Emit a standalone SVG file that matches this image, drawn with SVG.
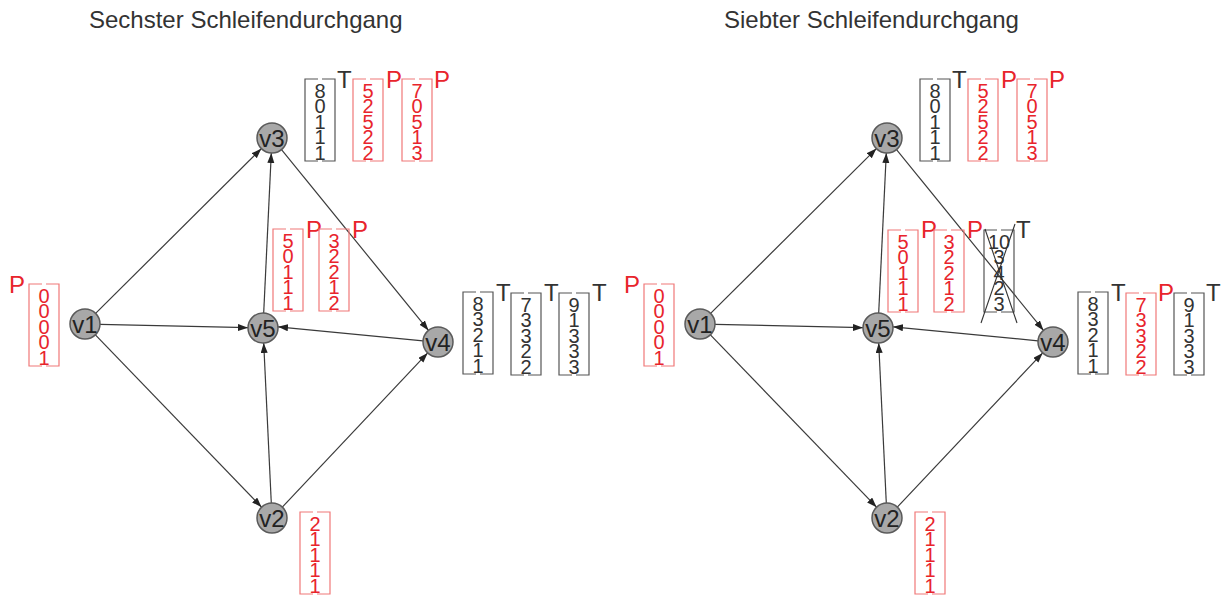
<svg xmlns="http://www.w3.org/2000/svg" xmlns:xlink="http://www.w3.org/1999/xlink" width="1226" height="596" viewBox="0 0 1226 596">
  <style>
    .title { font-family: "Liberation Sans", Arial, sans-serif; font-size: 24px; fill: #333; }
    .node circle { fill: #a8a8a8; stroke: #5a5a5a; stroke-width: 1.5; }
    .node text { font-family: "Liberation Sans", Arial, sans-serif; font-size: 24px; fill: #222; text-anchor: middle; }
    .edges line { stroke: #3a3a3a; stroke-width: 1.2; marker-end: url(#arrow); }
    .frame-red { fill: none; stroke: #f07878; stroke-width: 1.2; }
    .frame-blk { fill: none; stroke: #555; stroke-width: 1.2; }
    .col { font-family: "Liberation Sans", Arial, sans-serif; font-size: 20px; text-anchor: middle; }
    .red { fill: #e8242c; }
    .blk { fill: #333; }
    .tag { font-family: "Liberation Sans", Arial, sans-serif; font-size: 24px; }
    .cross { stroke: #333; stroke-width: 1.1; }
  </style>
  <defs>
    <marker id="arrow" markerUnits="userSpaceOnUse" markerWidth="11" markerHeight="8" refX="10" refY="3.5" orient="auto">
      <path d="M0,0 L10,3.5 L0,7 z" fill="#222"/>
    </marker>
    <!-- bracket-style frame around a vector, 30 x 82 -->
    <path id="frame" d="M13,0 H0 V82 H13 M17,0 H30 V82 H17"/>
  </defs>

  <!-- ===== Left panel ===== -->
  <text class="title" x="89" y="28">Sechster Schleifendurchgang</text>

  <g id="left-edges" class="edges">
    <line x1="95.6" y1="313.4" x2="261.4" y2="148.6"/>
    <line x1="100" y1="324.3" x2="248" y2="327.7"/>
    <line x1="95.4" y1="334.8" x2="261.6" y2="507.2"/>
    <line x1="281.5" y1="149.6" x2="428.5" y2="330.4"/>
    <line x1="263.7" y1="313" x2="271.3" y2="153"/>
    <line x1="423" y1="340.8" x2="278" y2="326.8"/>
    <line x1="271.3" y1="503" x2="263.7" y2="343"/>
    <line x1="282.3" y1="507.1" x2="427.7" y2="352.9"/>
  </g>

  <g id="left-v1" class="node"><circle cx="85" cy="324" r="15"/><text x="85" y="332.5">v1</text></g>
  <g id="left-v3" class="node"><circle cx="272" cy="138" r="15"/><text x="272" y="146.5">v3</text></g>
  <g id="left-v5" class="node"><circle cx="263" cy="328" r="15"/><text x="263" y="336.5">v5</text></g>
  <g id="left-v4" class="node"><circle cx="438" cy="342" r="15"/><text x="438" y="350.5">v4</text></g>
  <g id="left-v2" class="node"><circle cx="272" cy="518" r="15"/><text x="272" y="526.5">v2</text></g>

  <!-- vectors at v1 -->
  <g id="left-v1-vectors">
    <text class="tag red" x="9" y="293">P</text>
    <use xlink:href="#frame" x="29" y="284" class="frame-red"/>
    <text class="col red" y="302.5"><tspan x="44">0</tspan><tspan x="44" dy="15.5">0</tspan><tspan x="44" dy="15.5">0</tspan><tspan x="44" dy="15.5">0</tspan><tspan x="44" dy="15.5">1</tspan></text>
  </g>

  <!-- vectors at v3 -->
  <g id="left-v3-vectors">
    <use xlink:href="#frame" x="305" y="79" class="frame-blk"/>
    <text class="col blk" y="97.5"><tspan x="320">8</tspan><tspan x="320" dy="15.5">0</tspan><tspan x="320" dy="15.5">1</tspan><tspan x="320" dy="15.5">1</tspan><tspan x="320" dy="15.5">1</tspan></text>
    <text class="tag blk" x="337" y="88">T</text>
    <use xlink:href="#frame" x="353" y="79" class="frame-red"/>
    <text class="col red" y="97.5"><tspan x="368">5</tspan><tspan x="368" dy="15.5">2</tspan><tspan x="368" dy="15.5">5</tspan><tspan x="368" dy="15.5">2</tspan><tspan x="368" dy="15.5">2</tspan></text>
    <text class="tag red" x="386" y="88">P</text>
    <use xlink:href="#frame" x="402" y="79" class="frame-red"/>
    <text class="col red" y="97.5"><tspan x="417">7</tspan><tspan x="417" dy="15.5">0</tspan><tspan x="417" dy="15.5">5</tspan><tspan x="417" dy="15.5">1</tspan><tspan x="417" dy="15.5">3</tspan></text>
    <text class="tag red" x="434" y="88">P</text>
  </g>

  <!-- vectors at v5 -->
  <g id="left-v5-vectors">
    <use xlink:href="#frame" x="273" y="229" class="frame-red"/>
    <text class="col red" y="247.5"><tspan x="288">5</tspan><tspan x="288" dy="15.5">0</tspan><tspan x="288" dy="15.5">1</tspan><tspan x="288" dy="15.5">1</tspan><tspan x="288" dy="15.5">1</tspan></text>
    <text class="tag red" x="306" y="238">P</text>
    <use xlink:href="#frame" x="319" y="229" class="frame-red"/>
    <text class="col red" y="247.5"><tspan x="334">3</tspan><tspan x="334" dy="15.5">2</tspan><tspan x="334" dy="15.5">2</tspan><tspan x="334" dy="15.5">1</tspan><tspan x="334" dy="15.5">2</tspan></text>
    <text class="tag red" x="352" y="238">P</text>
  </g>

  <!-- vectors at v4 -->
  <g id="left-v4-vectors">
    <use xlink:href="#frame" x="463" y="292" class="frame-blk"/>
    <text class="col blk" y="310.5"><tspan x="478">8</tspan><tspan x="478" dy="15.5">3</tspan><tspan x="478" dy="15.5">2</tspan><tspan x="478" dy="15.5">1</tspan><tspan x="478" dy="15.5">1</tspan></text>
    <text class="tag blk" x="496" y="301">T</text>
    <use xlink:href="#frame" x="511" y="293" class="frame-blk"/>
    <text class="col blk" y="311.5"><tspan x="526">7</tspan><tspan x="526" dy="15.5">3</tspan><tspan x="526" dy="15.5">3</tspan><tspan x="526" dy="15.5">2</tspan><tspan x="526" dy="15.5">2</tspan></text>
    <text class="tag blk" x="544" y="301">T</text>
    <use xlink:href="#frame" x="559" y="293" class="frame-blk"/>
    <text class="col blk" y="311.5"><tspan x="574">9</tspan><tspan x="574" dy="15.5">1</tspan><tspan x="574" dy="15.5">3</tspan><tspan x="574" dy="15.5">3</tspan><tspan x="574" dy="15.5">3</tspan></text>
    <text class="tag blk" x="592" y="301">T</text>
  </g>

  <!-- vector at v2 -->
  <g id="left-v2-vectors">
    <use xlink:href="#frame" x="300" y="512" class="frame-red"/>
    <text class="col red" y="530.5"><tspan x="315">2</tspan><tspan x="315" dy="15.5">1</tspan><tspan x="315" dy="15.5">1</tspan><tspan x="315" dy="15.5">1</tspan><tspan x="315" dy="15.5">1</tspan></text>
  </g>

  <!-- ===== Right panel ===== -->
  <text class="title" x="724" y="28">Siebter Schleifendurchgang</text>

  <g transform="translate(615,0)">
    <g id="right-edges" class="edges">
      <line x1="95.6" y1="313.4" x2="261.4" y2="148.6"/>
      <line x1="100" y1="324.3" x2="248" y2="327.7"/>
      <line x1="95.4" y1="334.8" x2="261.6" y2="507.2"/>
      <line x1="281.5" y1="149.6" x2="428.5" y2="330.4"/>
      <line x1="263.7" y1="313" x2="271.3" y2="153"/>
      <line x1="423" y1="340.8" x2="278" y2="326.8"/>
      <line x1="271.3" y1="503" x2="263.7" y2="343"/>
      <line x1="282.3" y1="507.1" x2="427.7" y2="352.9"/>
    </g>
    <g id="right-v1" class="node"><circle cx="85" cy="324" r="15"/><text x="85" y="332.5">v1</text></g>
    <g id="right-v3" class="node"><circle cx="272" cy="138" r="15"/><text x="272" y="146.5">v3</text></g>
    <g id="right-v5" class="node"><circle cx="263" cy="328" r="15"/><text x="263" y="336.5">v5</text></g>
    <g id="right-v4" class="node"><circle cx="438" cy="342" r="15"/><text x="438" y="350.5">v4</text></g>
    <g id="right-v2" class="node"><circle cx="272" cy="518" r="15"/><text x="272" y="526.5">v2</text></g>
  </g>

  <!-- vectors at v1 -->
  <g id="right-v1-vectors">
    <text class="tag red" x="624" y="293">P</text>
    <use xlink:href="#frame" x="644" y="284" class="frame-red"/>
    <text class="col red" y="302.5"><tspan x="659">0</tspan><tspan x="659" dy="15.5">0</tspan><tspan x="659" dy="15.5">0</tspan><tspan x="659" dy="15.5">0</tspan><tspan x="659" dy="15.5">1</tspan></text>
  </g>

  <!-- vectors at v3 -->
  <g id="right-v3-vectors">
    <use xlink:href="#frame" x="920" y="79" class="frame-blk"/>
    <text class="col blk" y="97.5"><tspan x="935">8</tspan><tspan x="935" dy="15.5">0</tspan><tspan x="935" dy="15.5">1</tspan><tspan x="935" dy="15.5">1</tspan><tspan x="935" dy="15.5">1</tspan></text>
    <text class="tag blk" x="952" y="88">T</text>
    <use xlink:href="#frame" x="968" y="79" class="frame-red"/>
    <text class="col red" y="97.5"><tspan x="983">5</tspan><tspan x="983" dy="15.5">2</tspan><tspan x="983" dy="15.5">5</tspan><tspan x="983" dy="15.5">2</tspan><tspan x="983" dy="15.5">2</tspan></text>
    <text class="tag red" x="1001" y="88">P</text>
    <use xlink:href="#frame" x="1017" y="79" class="frame-red"/>
    <text class="col red" y="97.5"><tspan x="1032">7</tspan><tspan x="1032" dy="15.5">0</tspan><tspan x="1032" dy="15.5">5</tspan><tspan x="1032" dy="15.5">1</tspan><tspan x="1032" dy="15.5">3</tspan></text>
    <text class="tag red" x="1049" y="88">P</text>
  </g>

  <!-- vectors at v5, including the struck-out one -->
  <g id="right-v5-vectors">
    <use xlink:href="#frame" x="888" y="230" class="frame-red"/>
    <text class="col red" y="248.5"><tspan x="903">5</tspan><tspan x="903" dy="15.5">0</tspan><tspan x="903" dy="15.5">1</tspan><tspan x="903" dy="15.5">1</tspan><tspan x="903" dy="15.5">1</tspan></text>
    <text class="tag red" x="921" y="238">P</text>
    <use xlink:href="#frame" x="934" y="230" class="frame-red"/>
    <text class="col red" y="248.5"><tspan x="949">3</tspan><tspan x="949" dy="15.5">2</tspan><tspan x="949" dy="15.5">2</tspan><tspan x="949" dy="15.5">1</tspan><tspan x="949" dy="15.5">2</tspan></text>
    <text class="tag red" x="967" y="238">P</text>
    <use xlink:href="#frame" x="984" y="230" class="frame-blk"/>
    <text class="col blk" y="248.5"><tspan x="999">10</tspan><tspan x="999" dy="15.5">3</tspan><tspan x="999" dy="15.5">4</tspan><tspan x="999" dy="15.5">2</tspan><tspan x="999" dy="15.5">3</tspan></text>
    <text class="tag blk" x="1016" y="238">T</text>
    <line class="cross" x1="985" y1="229" x2="1017" y2="323"/>
    <line class="cross" x1="1015" y1="224" x2="981" y2="323"/>
  </g>

  <!-- vectors at v4 -->
  <g id="right-v4-vectors">
    <use xlink:href="#frame" x="1078" y="292" class="frame-blk"/>
    <text class="col blk" y="310.5"><tspan x="1093">8</tspan><tspan x="1093" dy="15.5">3</tspan><tspan x="1093" dy="15.5">2</tspan><tspan x="1093" dy="15.5">1</tspan><tspan x="1093" dy="15.5">1</tspan></text>
    <text class="tag blk" x="1111" y="301">T</text>
    <use xlink:href="#frame" x="1126" y="293" class="frame-red"/>
    <text class="col red" y="311.5"><tspan x="1141">7</tspan><tspan x="1141" dy="15.5">3</tspan><tspan x="1141" dy="15.5">3</tspan><tspan x="1141" dy="15.5">2</tspan><tspan x="1141" dy="15.5">2</tspan></text>
    <text class="tag red" x="1158" y="301">P</text>
    <use xlink:href="#frame" x="1174" y="293" class="frame-blk"/>
    <text class="col blk" y="311.5"><tspan x="1189">9</tspan><tspan x="1189" dy="15.5">1</tspan><tspan x="1189" dy="15.5">3</tspan><tspan x="1189" dy="15.5">3</tspan><tspan x="1189" dy="15.5">3</tspan></text>
    <text class="tag blk" x="1206" y="301">T</text>
  </g>

  <!-- vector at v2 -->
  <g id="right-v2-vectors">
    <use xlink:href="#frame" x="915" y="512" class="frame-red"/>
    <text class="col red" y="530.5"><tspan x="930">2</tspan><tspan x="930" dy="15.5">1</tspan><tspan x="930" dy="15.5">1</tspan><tspan x="930" dy="15.5">1</tspan><tspan x="930" dy="15.5">1</tspan></text>
  </g>
</svg>
